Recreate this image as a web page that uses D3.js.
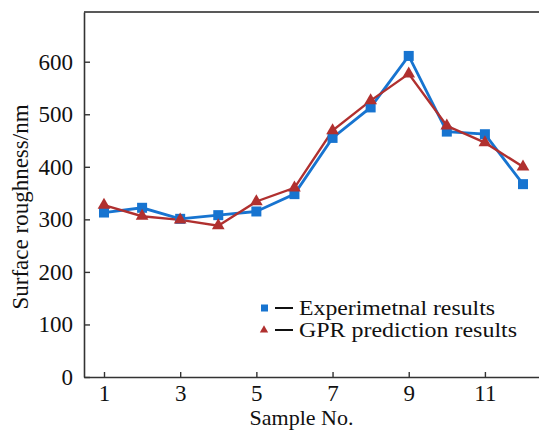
<!DOCTYPE html>
<html>
<head>
<meta charset="utf-8">
<script src="https://cdn.jsdelivr.net/npm/d3@7"></script>
<style>
  html, body { margin: 0; padding: 0; background: #fff; }
  svg text { font-family: "Liberation Serif", "DejaVu Serif", serif; fill: #111; }
</style>
</head>
<body>
<svg id="chart" width="539" height="430"></svg>
<script>
// --- data ---
const samples = [1, 2, 3, 4, 5, 6, 7, 8, 9, 10, 11, 12];
const experimental = [313, 322, 301, 308, 315, 348, 455, 513, 611, 467, 462, 367];
const gprPrediction = [327, 306, 299, 288, 334, 360, 469, 526, 577, 478, 446, 400];
const xTicks = [1, 3, 5, 7, 9, 11];
const yTicks = [0, 100, 200, 300, 400, 500, 600];
const seriesNames = ["Experimetnal results", "GPR prediction results"];

const blue = "#1774d0", red = "#b0302f";

const svg = d3.select("#chart");
const plotL = 84, plotR = 539, plotT = 12, plotB = 377;

const x = d3.scaleLinear().domain([0.475, 12.42]).range([plotL, plotR]);
const y = d3.scaleLinear().domain([0, 694.6]).range([plotB, plotT]);

// --- frame ---
svg.append("line")
    .attr("x1", plotL).attr("x2", plotR).attr("y1", plotT).attr("y2", plotT)
    .attr("stroke", "#222").attr("stroke-width", 1.5);

const xAxis = svg.append("g")
    .attr("transform", `translate(0,${plotB})`)
    .call(d3.axisBottom(x).tickValues(xTicks).tickSizeInner(-5).tickSizeOuter(0).tickPadding(8));
const yAxis = svg.append("g")
    .attr("transform", `translate(${plotL},0)`)
    .call(d3.axisLeft(y).tickValues(yTicks).tickSizeInner(-6).tickSizeOuter(0).tickPadding(11));

[xAxis, yAxis].forEach(a => {
    a.select(".domain").attr("stroke", "#333").attr("stroke-width", 1.6);
    a.selectAll(".tick line").attr("stroke", "#333").attr("stroke-width", 1.4);
    a.selectAll("text")
        .style("font-family", "Liberation Serif, serif")
        .style("font-size", "23px")
        .attr("fill", "#111");
});

// axis titles
svg.append("text")
    .attr("x", (plotL + plotR) / 2 - 10)
    .attr("y", 425)
    .attr("text-anchor", "middle")
    .attr("font-size", "22px")
    .text("Sample No.");

svg.append("text")
    .attr("transform", "rotate(-90)")
    .attr("x", -207)
    .attr("y", 28)
    .attr("text-anchor", "middle")
    .attr("font-size", "23px")
    .text("Surface roughness/nm");

// --- lines ---
const line = d3.line().x((d, i) => x(samples[i])).y(d => y(d));

svg.append("path")
    .datum(experimental)
    .attr("fill", "none")
    .attr("stroke", blue)
    .attr("stroke-width", 2.8)
    .attr("d", line);

svg.append("path")
    .datum(gprPrediction)
    .attr("fill", "none")
    .attr("stroke", red)
    .attr("stroke-width", 2.4)
    .attr("d", line);

// markers
svg.selectAll(".sq")
    .data(experimental)
    .join("rect")
    .attr("x", (d, i) => x(samples[i]) - 5)
    .attr("y", d => y(d) - 5)
    .attr("width", 10).attr("height", 10)
    .attr("fill", blue);

const tri = d3.symbol().type(d3.symbolTriangle).size(70);
svg.selectAll(".tri")
    .data(gprPrediction)
    .join("path")
    .attr("d", tri)
    .attr("transform", (d, i) => `translate(${x(samples[i])},${y(d)})`)
    .attr("fill", red);

// --- legend ---
const legend = svg.append("g");
const legendRows = [
    { name: seriesNames[0], color: blue, shape: "square", ly: 308, len: 196 },
    { name: seriesNames[1], color: red, shape: "triangle", ly: 330, len: 218 }
];
legendRows.forEach(r => {
    if (r.shape === "square") {
        legend.append("rect")
            .attr("x", 261).attr("y", r.ly - 3.5)
            .attr("width", 7).attr("height", 7)
            .attr("fill", r.color);
    } else {
        legend.append("path")
            .attr("d", d3.symbol().type(d3.symbolTriangle).size(30))
            .attr("transform", `translate(264,${r.ly})`)
            .attr("fill", r.color);
    }
    legend.append("line")
        .attr("x1", 275).attr("x2", 293)
        .attr("y1", r.ly).attr("y2", r.ly)
        .attr("stroke", "#111").attr("stroke-width", 2);
    legend.append("text")
        .attr("x", 299)
        .attr("y", r.ly + 7)
        .attr("font-size", "20px")
        .attr("textLength", r.len)
        .attr("lengthAdjust", "spacingAndGlyphs")
        .text(r.name);
});
</script>
</body>
</html>
